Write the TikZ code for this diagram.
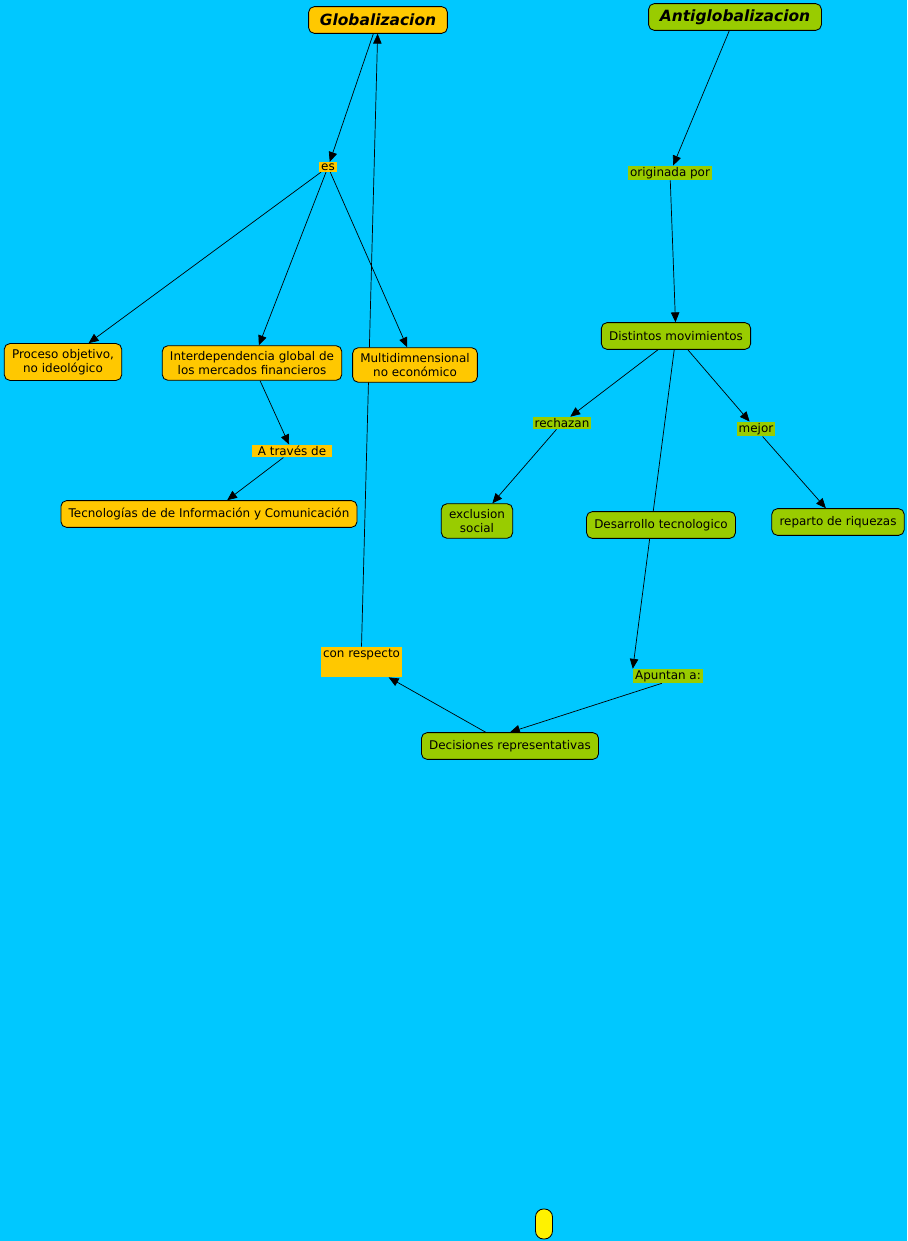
\documentclass[tikz,border=0pt]{standalone}
\usepackage{fontspec}
\setmainfont{DejaVu Sans}[ItalicFont={DejaVu Sans Oblique}, BoldFont={DejaVu Sans Bold}, BoldItalicFont={DejaVu Sans Bold Oblique}]
\usepackage{xcolor}
\usetikzlibrary{arrows.meta, positioning, calc, shapes}
\definecolor{cmapbg}{RGB}{0,200,255}
\definecolor{cmapgold}{RGB}{255,200,0}
\definecolor{cmapolive}{RGB}{153,204,0}
\pgfdeclarelayer{background}
\pgfsetlayers{background,main}

\begin{document}
\begin{tikzpicture}[x=0.025cm, y=-0.025cm,
    every node/.style={font=\fontsize{8.5}{10}\selectfont},
    concept/.style={draw, rounded corners=4pt, line width=0.6pt, inner xsep=5.5pt, inner ysep=4pt, minimum height=19pt, align=center},
    glob/.style={concept, fill=cmapgold},
    anti/.style={concept, fill=cmapolive},
    titulo/.style={font=\fontsize{11}{13}\bfseries\itshape\selectfont, inner xsep=8pt},
    link/.style={inner xsep=1.5pt, inner ysep=1pt},
    arr/.style={-{Triangle[length=7pt,width=6pt]}, line width=0.5pt}]
    \useasboundingbox (0,0) rectangle (907,1241);

    % Globalizacion
    \node[glob, titulo] (G) at (378,20) {Globalizacion};
    \node[link, fill=cmapgold] (es) at (328,167) {es};
    \node[glob] (P) at (63,362) {Proceso objetivo,\\ no ideológico};
    \node[glob] (I) at (252,363) {Interdependencia global de\\ los mercados financieros};
    \node[glob] (M) at (415,365) {Multidimnensional\\ no económico};
    \node[link, fill=cmapgold, inner xsep=4pt] (AT) at (292,451) {A través de};
    \node[glob] (T) at (209,514) {Tecnologías de de Información y Comunicación};
    \node[link, fill=cmapgold, minimum width=1.975cm, text height=6.5pt, text depth=13pt] (CR) at (361.5,662) {con respecto};

    % Antiglobalizacion
    \node[anti, titulo] (A) at (735,17) {Antiglobalizacion};
    \node[link, fill=cmapolive] (OP) at (670,173) {originada por};
    \node[anti] (DM) at (676,336) {Distintos movimientos};
    \node[link, fill=cmapolive] (R) at (562,423) {rechazan};
    \node[link, fill=cmapolive] (MJ) at (756,429) {mejor};
    \node[anti] (EX) at (477,521) {exclusion\\ social};
    \node[anti] (DT) at (661,525) {Desarrollo tecnologico};
    \node[anti] (RR) at (838,522) {reparto de riquezas};
    \node[link, fill=cmapolive] (AP) at (668,676) {Apuntan a:};
    \node[anti] (D) at (510,746) {Decisiones representativas};

    \node[draw, fill=yellow, line width=0.6pt, rounded corners=0.2cm, minimum width=0.425cm, minimum height=0.75cm] (Y) at (544,1224) {};

    \begin{pgfonlayer}{background}
        \fill[cmapbg] (0,0) rectangle (907,1241);
        \draw[arr] (G) -- (es);
        \draw[arr] (es) -- (P);
        \draw[arr] (es) -- (I);
        \draw[arr] (es) -- (M);
        \draw[arr] (I) -- (AT);
        \draw[arr] (AT) -- (T);
        \draw[arr] (CR.north) -- (G);
        \draw[arr] (A) -- (OP);
        \draw[arr] (OP) -- (DM);
        \draw[arr] (DM) -- (R);
        \draw[arr] (DM) -- (MJ);
        \draw[arr] (R) -- (EX);
        \draw[arr] (MJ) -- (RR);
        \draw[arr] (DM) -- (AP.north west);
        \draw[arr] (AP.230) -- (D.north);
        \draw[arr] (D) -- (CR);
    \end{pgfonlayer}
\end{tikzpicture}
\end{document}
